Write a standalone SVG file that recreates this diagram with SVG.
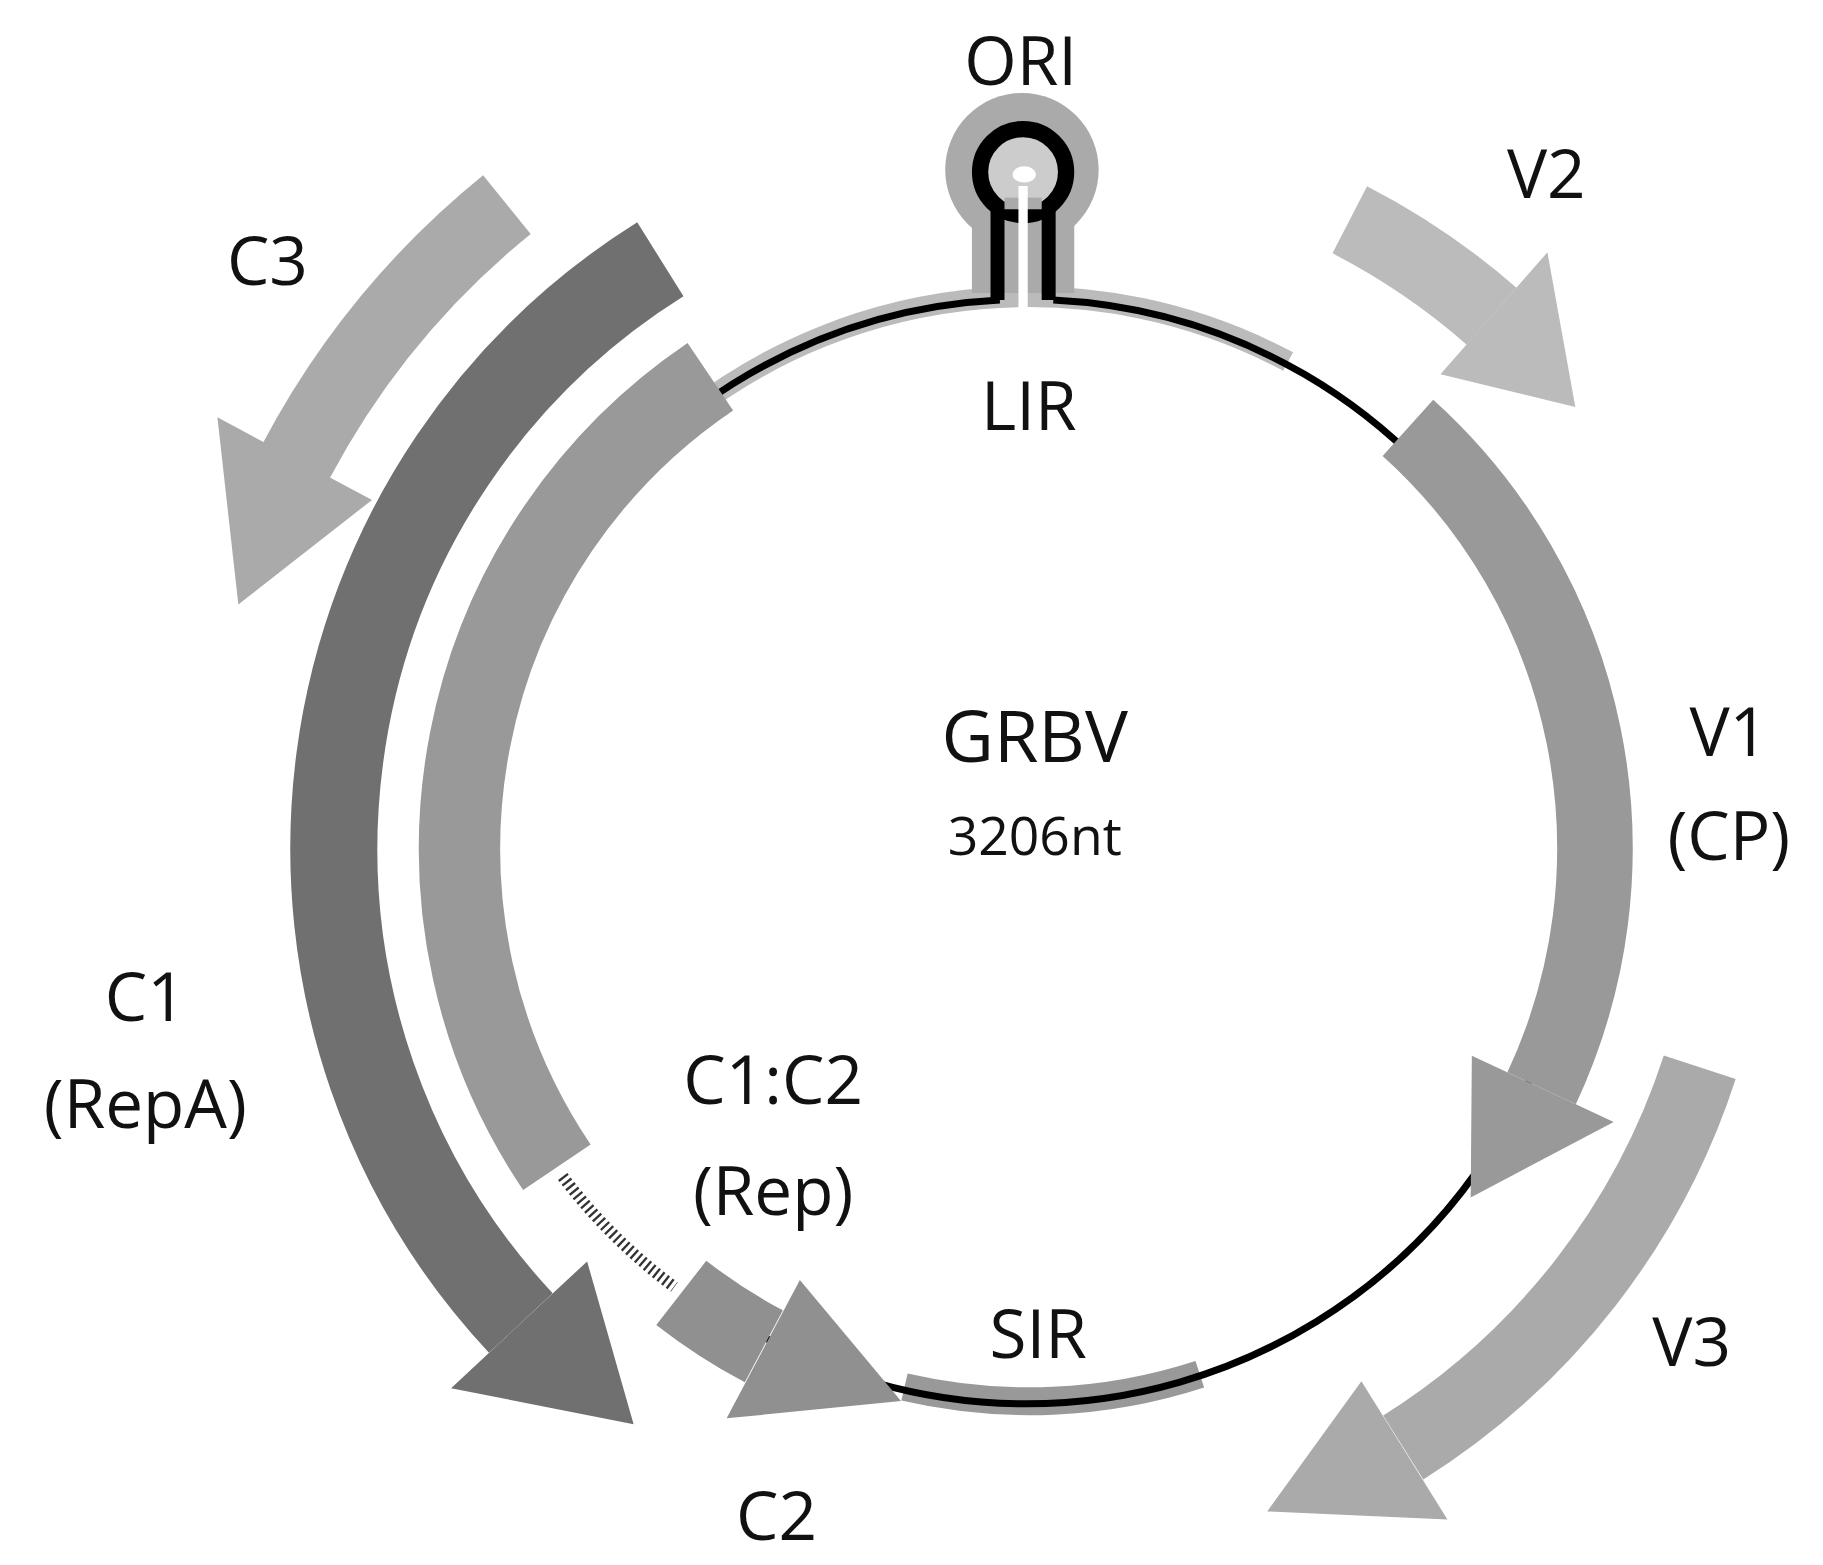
<svg xmlns="http://www.w3.org/2000/svg" width="1823" height="1565" viewBox="0 0 1823 1565">
<style>
text{font-family:"Open Sans","Liberation Sans",sans-serif;fill:#111;text-anchor:middle}
.band{fill:none}
</style>
<rect width="1823" height="1565" fill="#fff"/>
<g transform="scale(1.1626)">
<g id="genome">
<path d="M592,356 A475,475 0 0 1 1108,311" fill="none" stroke="#bbb" stroke-width="18"/>
<path d="M1032,1182 A475,475 0 0 1 778,1193" fill="none" stroke="#999" stroke-width="24"/>
<rect x="836" y="160" width="88" height="92" fill="#aaa"/>
<circle cx="879" cy="146" r="66" fill="#aaa"/>
<path d="M860,258 A475,475 0 1 0 906,258" fill="none" stroke="#000" stroke-width="6"/>
<path d="M858,258 V175 M902,258 V175" stroke="#000" stroke-width="12"/>
<circle cx="880" cy="148" r="37" fill="#ccc" stroke="#000" stroke-width="14"/>
<rect x="864" y="170" width="32" height="10" fill="#aaa"/>
<ellipse cx="881" cy="150" rx="10" ry="7" fill="#fff"/>
<line x1="880" y1="160" x2="880" y2="275" stroke="#fff" stroke-width="8"/>
<path d="M490,995 A475,475 0 0 0 600,1110" fill="none" stroke="#fff" stroke-width="14"/>
</g>
<g id="V1"><path class="band" d="M1211,368 A487,487 0 0 1 1326,936" stroke="#999" stroke-width="65"/><polygon points="1266,908 1388,965 1265,1030" fill="#999"/></g>
<g id="Rep"><path class="band" d="M611,324 A490,490 0 0 0 479,1004" stroke="#999" stroke-width="70"/>
<path d="M484,1012 A480,480 0 0 0 580,1107" fill="none" stroke="#333" stroke-width="10" stroke-dasharray="2 3"/></g>
<g id="C2"><path class="band" d="M586,1112 A485,485 0 0 0 657,1158" stroke="#909090" stroke-width="70"/><polygon points="688,1101 625,1220 775,1205" fill="#909090"/></g>
<g id="C1"><path class="band" d="M568,223 A598,598 0 0 0 448,1138" stroke="#707070" stroke-width="75"/><polygon points="505,1085 388,1194 545,1225" fill="#707070"/></g>
<g id="C3"><path class="band" d="M436,176 A713,713 0 0 0 255,396" stroke="#aaa" stroke-width="65"/><polygon points="320,430 187,359 205,520" fill="#aaa"/></g>
<g id="V2"><path class="band" d="M1161,189 A607,607 0 0 1 1283,272" stroke="#bbb" stroke-width="65"/><polygon points="1239,322 1331,217 1355,350" fill="#bbb"/></g>
<g id="V3"><path class="band" d="M1462,918 A607,607 0 0 1 1207,1245" stroke="#aaa" stroke-width="65"/><polygon points="1171,1188 1245,1307 1090,1300" fill="#aaa"/></g>
<g id="labels">
<text x="878" y="73" font-size="58">ORI</text>
<text x="1330" y="170" font-size="58">V2</text>
<text x="230" y="245" font-size="58">C3</text>
<text x="885" y="370" font-size="58">LIR</text>
<text x="890" y="655" font-size="62">GRBV</text>
<text x="890" y="735" font-size="46">3206nt</text>
<text x="1487" y="650" font-size="58">V1</text>
<text x="1487" y="740" font-size="58">(CP)</text>
<text x="125" y="878" font-size="58">C1</text>
<text x="125" y="970" font-size="58">(RepA)</text>
<text x="665" y="950" font-size="58">C1:C2</text>
<text x="665" y="1045" font-size="58">(Rep)</text>
<text x="893" y="1168" font-size="58">SIR</text>
<text x="1455" y="1175" font-size="58">V3</text>
<text x="668" y="1325" font-size="58">C2</text>
</g>
</g>
</svg>
